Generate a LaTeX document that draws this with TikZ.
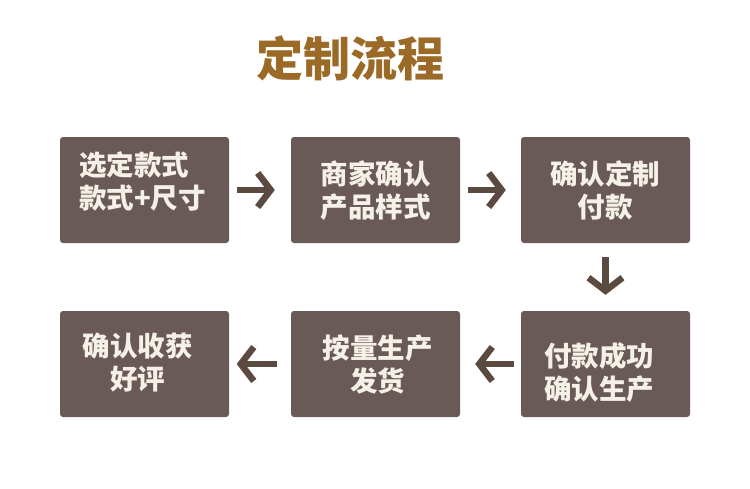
\documentclass[tikz,border=0pt]{standalone}
\usepackage{fontspec}
\newfontfamily\cjk{Noto Sans CJK SC}
\usetikzlibrary{arrows.meta}

\definecolor{boxbrown}{RGB}{105,89,87}
\definecolor{arrowbrown}{RGB}{90,74,64}
\definecolor{titlegold}{RGB}{155,106,38}
\definecolor{textcream}{RGB}{246,241,232}

\tikzset{
  stepbox/.style={fill=boxbrown, rounded corners=3pt, minimum width=169pt,
    minimum height=106pt, inner sep=0pt},
  steptext/.style={text=textcream, font=\cjk\bfseries\fontsize{27.5}{33}\selectfont,
    align=center, inner sep=0pt},
  steparrow/.style={draw=arrowbrown, line width=6.5pt,
    -{Straight Barb[length=13pt, width=34pt]}}
}

\begin{document}
\begin{tikzpicture}[x=1pt, y=-1pt]

      \useasboundingbox (0,0) rectangle (750,488);

      % Title
      \node[text=titlegold, font=\cjk\bfseries\fontsize{47}{50}\selectfont] (title) at (350,58) {定制流程};

      % Top row of steps
      \node[stepbox] (b1) at (144.5,190) {};
      \node[stepbox] (b2) at (375.5,190) {};
      \node[stepbox] (b3) at (605.5,190) {};

      % Bottom row of steps
      \node[stepbox] (b4) at (144.5,364) {};
      \node[stepbox] (b5) at (375.5,364) {};
      \node[stepbox] (b6) at (605.5,364) {};

      % Step texts
      \node[steptext, align=left] (t1) at (142.5,181) {选定款式\\款式+尺寸};
      \node[steptext] (t2) at (375.5,191) {商家确认\\产品样式};
      \node[steptext] (t3) at (605,190.5) {确认定制\\付款};
      \node[steptext] (t4) at (137.5,363) {确认收获\\好评};
      \node[steptext] (t5) at (377.5,364.5) {按量生产\\发货};
      \node[steptext, align=left] (t6) at (599,372.5) {付款成功\\确认生产};

      % Arrows between steps
      \draw[steparrow, shorten <=7.5pt, shorten >=16pt] (b1) -- (b2);
      \draw[steparrow, shorten <=7.5pt, shorten >=15pt] (b2) -- (b3);
      \draw[steparrow, shorten <=14pt, shorten >=16pt] (b3) -- (b6);
      \draw[steparrow, shorten <=7pt, shorten >=15pt] (b6) -- (b5);
      \draw[steparrow, shorten <=14pt, shorten >=7.5pt] (b5) -- (b4);

    \end{tikzpicture}
\end{document}
